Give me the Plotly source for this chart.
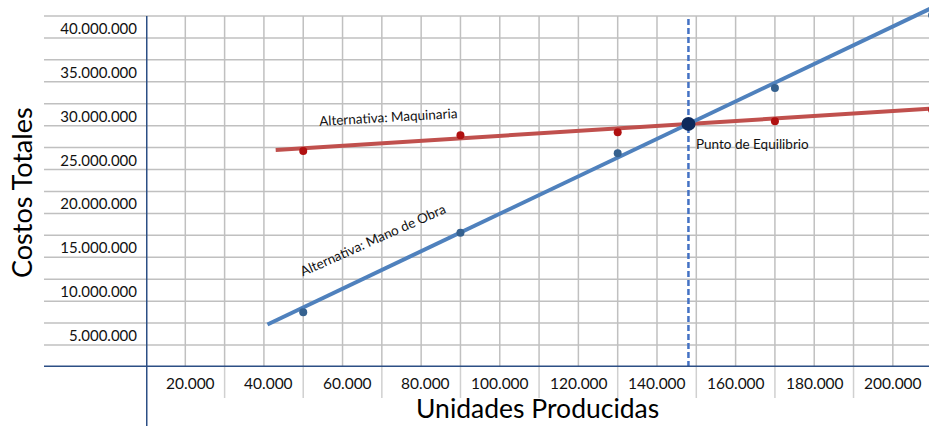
import plotly.graph_objects as go

# ---- data -------------------------------------------------------------
units = [40000, 80000, 120000, 160000, 200000]
cost_maquinaria = [24.6e6, 26.4e6, 26.75e6, 28.0e6, 29.3e6]
cost_mano_obra = [6.23e6, 15.3e6, 24.35e6, 31.8e6, 40.1e6]

# fitted trend lines (end points)
trend_maq_x = [33000, 200000]
trend_maq_y = [24.73e6, 29.45e6]
trend_mo_x = [30900, 200000]
trend_mo_y = [4.85e6, 40.93e6]

# break-even point
eq_x = 138000
eq_y = 27.7e6

# axis labels
x_label_vals = [20000, 40000, 60000, 80000, 100000, 120000, 140000, 160000, 180000, 200000]
x_label_text = ["20.000", "40.000", "60.000", "80.000", "100.000", "120.000",
                "140.000", "160.000", "180.000", "200.000"]
y_label_vals = [5e6, 10e6, 15e6, 20e6, 25e6, 30e6, 35e6, 40e6]
y_label_text = ["5.000.000", "10.000.000", "15.000.000", "20.000.000",
                "25.000.000", "30.000.000", "35.000.000", "40.000.000"]

x_grid = list(range(10000, 200000, 10000))
x_sep = list(range(20000, 200000, 20000))
y_grid = [2.5e6 * i for i in range(1, 17)]

# ---- styling ----------------------------------------------------------
FONT = "Lato"
RED = "#C0504D"
RED_DOT = "#B01010"
BLUE = "#4F81BD"
BLUE_DOT = "#35618F"
NAVY = "#2C4F85"
GRID = "#C0C0C0"
TEXT = "#111111"

W, H = 929, 426
ML, MB = 146, 59
PW, PH = W - ML, H - MB

X_MAX = 199200
Y_MAX = 41.82e6
LEFT_EXT = -102 / PW      # table column to the left of the value axis (paper units)
BOTTOM_EXT = -MB / PH     # space below the category axis (paper units)

fig = go.Figure()

fig.add_trace(go.Scatter(x=trend_maq_x, y=trend_maq_y, mode="lines",
                         line=dict(color=RED, width=4), hoverinfo="skip"))
fig.add_trace(go.Scatter(x=trend_mo_x, y=trend_mo_y, mode="lines",
                         line=dict(color=BLUE, width=4), hoverinfo="skip"))
fig.add_trace(go.Scatter(x=units, y=cost_maquinaria, mode="markers",
                         marker=dict(color=RED_DOT, size=8)))
fig.add_trace(go.Scatter(x=units, y=cost_mano_obra, mode="markers",
                         marker=dict(color=BLUE_DOT, size=8)))
fig.add_trace(go.Scatter(x=[eq_x], y=[eq_y], mode="markers",
                         marker=dict(color="#0E2A5C", size=14)))

shapes = []
# horizontal grid, running across the label column too
for v in y_grid:
    shapes.append(dict(type="line", xref="paper", yref="y", x0=LEFT_EXT, x1=1,
                       y0=v, y1=v, line=dict(color=GRID, width=1.5), layer="below"))
# vertical grid inside the plotting area
for v in x_grid:
    shapes.append(dict(type="line", xref="x", yref="y", x0=v, x1=v,
                       y0=0, y1=y_grid[-1], line=dict(color=GRID, width=1.5), layer="below"))
# label separators under the category axis
for v in x_sep:
    shapes.append(dict(type="line", xref="x", yref="paper", x0=v, x1=v,
                       y0=-31 / PH, y1=0, line=dict(color="#D0D0D0", width=1.5), layer="below"))
# break-even marker line (under the traces)
shapes.append(dict(type="line", xref="x", yref="y", x0=eq_x, x1=eq_x, y0=0, y1=y_grid[-1],
                   line=dict(color="#4472C4", width=2.5, dash="6px,3px"), layer="below"))
# main axes
shapes.append(dict(type="line", xref="paper", yref="y", x0=LEFT_EXT, x1=1, y0=0, y1=0,
                   line=dict(color=NAVY, width=3)))
shapes.append(dict(type="line", xref="x", yref="paper", x0=0, x1=0,
                   y0=BOTTOM_EXT, y1=y_grid[-1] / Y_MAX, line=dict(color=NAVY, width=3)))

annotations = []
# category labels sit right-aligned in the cell that ends at their value
for v, t in zip(x_label_vals, x_label_text):
    annotations.append(dict(x=v / X_MAX, y=-16 / PH, xref="paper", yref="paper", text=t,
                            showarrow=False, xanchor="right", yanchor="middle", xshift=-8,
                            font=dict(family=FONT, size=15.5, color=TEXT)))

annotations += [
    dict(x=61600, y=28.49e6, xref="x", yref="y", text="Alternativa: Maquinaria",
         showarrow=False, textangle=-3.3, font=dict(family=FONT, size=13.5, color=TEXT)),
    dict(x=57700, y=14.47e6, xref="x", yref="y", text="Alternativa: Mano de Obra",
         showarrow=False, textangle=-24, font=dict(family=FONT, size=13.5, color=TEXT)),
    dict(x=eq_x, y=eq_y, xref="x", yref="y", text="Punto de Equilibrio",
         showarrow=False, xanchor="left", yanchor="middle", xshift=6, yshift=-20,
         font=dict(family=FONT, size=13.5, color=TEXT)),
    dict(x=(21 - ML) / PW, y=(PH - 193) / PH, xref="paper", yref="paper",
         text="Costos Totales", showarrow=False, textangle=-90,
         xanchor="center", yanchor="middle",
         font=dict(family=FONT, size=27, color="#000000")),
    dict(x=(537 - ML) / PW, y=-(H - 1 - PH) / PH, xref="paper", yref="paper",
         text="Unidades Producidas", showarrow=False,
         xanchor="center", yanchor="bottom", borderpad=0,
         font=dict(family=FONT, size=26.5, color="#000000")),
]

fig.update_layout(
    width=W, height=H,
    margin=dict(l=ML, r=0, t=0, b=MB),
    paper_bgcolor="white", plot_bgcolor="white",
    showlegend=False,
    shapes=shapes,
    annotations=annotations,
    xaxis=dict(range=[0, X_MAX], showgrid=False, zeroline=False, showline=False,
               showticklabels=False, ticks=""),
    yaxis=dict(range=[0, Y_MAX], showgrid=False, zeroline=False, showline=False,
               tickmode="array", tickvals=[v - 1.45e6 for v in y_label_vals],
               ticktext=y_label_text, ticks="", ticklabelstandoff=8,
               tickfont=dict(family=FONT, size=15, color=TEXT)),
)

fig.write_html("out.html")
